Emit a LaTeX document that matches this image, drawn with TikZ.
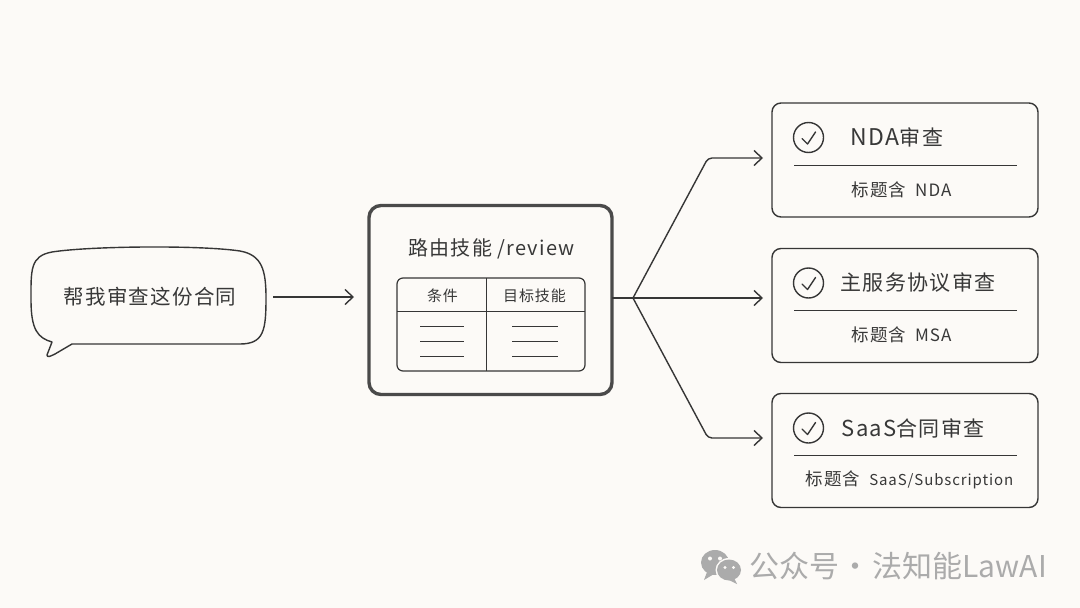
\documentclass[tikz,border=0pt]{standalone}
\usepackage{fontspec}
\setmainfont[LetterSpace=6]{Noto Sans CJK SC}
\newfontfamily\wmfont[LetterSpace=0]{Noto Sans CJK SC}
\usetikzlibrary{arrows.meta,calc}
\definecolor{bgc}{HTML}{FCFAF7}
\definecolor{ink}{HTML}{363636}
\definecolor{txt}{HTML}{383838}
\definecolor{wm}{HTML}{ABABAB}
\newcommand{\fsz}[1]{\fontsize{#1}{#1}\selectfont}
\newcommand{\subline}[2]{{\fsz{17.5}标题含}\hspace{9pt}{\fsz{#1}#2}}
\tikzset{
  x=1pt,y=-1pt,
  base/.style={draw=ink,line width=1.4pt},
  arr/.style={draw=ink,line width=1.4pt,line join=round,rounded corners=4pt,-{Straight Barb[length=8pt,width=15pt,line width=1.4pt]}},
  card/.style={base,rounded corners=9pt,minimum width=266pt,minimum height=114pt,inner sep=0pt,outer sep=0pt},
  routerbox/.style={draw=ink!90,line width=3.4pt,rounded corners=12pt,minimum width=243pt,minimum height=189pt,inner sep=0pt,outer sep=0pt},
  tablebox/.style={base,line width=1.2pt,rounded corners=6pt,minimum width=188pt,minimum height=93pt,inner sep=0pt,outer sep=0pt},
  chk/.style={circle,base,minimum size=30pt,inner sep=0pt,outer sep=0pt},
  tick/.style={draw=ink,line width=1.4pt,line cap=round,line join=round},
  rowline/.style={draw=ink,line width=1.1pt},
  title/.style={text=txt,font=\fsz{21},inner sep=0pt},
  sub/.style={text=txt,inner sep=0pt},
  th/.style={text=txt,font=\fsz{15},inner sep=0pt},
  ghost/.style={minimum width=235pt,minimum height=97pt,inner sep=0pt,outer sep=0pt,text=txt,font=\fsz{20.5}},
}
\begin{document}
\begin{tikzpicture}
\useasboundingbox (0,0) rectangle (1080,608);
\fill[bgc] (0,0) rectangle (1080,608);

% speech bubble
\draw[base,line join=round,fill=bgc] (52,342) .. controls (38,338) and (31,330) .. (31,300)
  .. controls (31,270) and (30,256) .. (52,252)
  .. controls (90,246) and (200,245) .. (240,251)
  .. controls (262,255) and (266,270) .. (266,298)
  .. controls (266,330) and (264,344) .. (240,344)
  -- (72,344) -- (55,354) .. controls (51,356) and (47,358) .. (47,355) -- cycle;
\node[ghost] (user) at (150,297) {帮我审查这份合同};

% router
\node[routerbox] (router) at (490.5,300) {};
\node[title,font=\fsz{20}] (routertitle) at (491.5,249) {路由技能 /review};
\node[tablebox] (table) at (491,324.5) {};
\draw[base,line width=1.2pt] (table.west |- 0,311.5) -- (table.east |- 0,311.5);
\draw[base,line width=1.2pt] (486.5,278) -- (486.5,371);
\node[th] (cond) at (442.5,296) {条件};
\node[th] (skill) at (534.5,296) {目标技能};
\foreach \yy in {326.5,341.5,356.5}{
  \draw[rowline] (420,\yy) -- (464,\yy);
  \draw[rowline] (512,\yy) -- (558,\yy);
}

% cards
\node[card] (nda) at (905,160) {};
\node[card] (msa) at (905,305.5) {};
\node[card] (saas) at (905,450.5) {};

\node[chk] (c1) at (808.5,137.5) {};
\node[chk] (c2) at (808.5,283) {};
\node[chk] (c3) at (808.5,428) {};
\foreach \c in {c1,c2,c3}{
  \draw[tick] ($(\c.center)+(-6.5,1)$) -- ($(\c.center)+(-1,6.5)$) -- ($(\c.center)+(7,-5.5)$);
}
\draw[rowline] (794,165.5) -- (1017,165.5);
\draw[rowline] (794,310.5) -- (1017,310.5);
\draw[rowline] (794,455.5) -- (1017,455.5);

\node[title] (t1) at (897,137) {{\fsz{23}NDA}审查};
\node[title] (t2) at (918,283) {主服务协议审查};
\node[title] (t3) at (913,428) {{\fsz{22}SaaS}合同审查};
\node[sub] (s1) at (901.5,190) {\subline{17}{NDA}};
\node[sub] (s2) at (901.5,335) {\subline{17}{MSA}};
\node[sub] (s3) at (909.5,480) {\subline{15}{SaaS/Subscription}};

% connectors
\coordinate (hub) at (633,298);
\coordinate (up) at (708,158);
\coordinate (down) at (708,438);
\draw[arr,shorten <=5.5pt,shorten >=15pt] (user.east) -- (router.west |- user.east);
\draw[base] (router.east |- hub) -- (hub);
\draw[arr,shorten >=9pt] (hub) -- (up) -- (nda.west |- up);
\draw[arr,shorten >=9pt] (hub) -- (msa.west |- hub);
\draw[arr,shorten >=9pt] (hub) -- (down) -- (saas.west |- down);

% watermark
\begin{scope}
\fill[wm] (715,562.5) ellipse (14 and 12.5);
\fill[wm] (707,572) -- (704,580) -- (714,574) -- cycle;
\fill[bgc] (729,570) ellipse (13.5 and 12);
\fill[wm] (729,570) ellipse (12 and 10.5);
\fill[wm] (734,578) -- (737,584) -- (727,579) -- cycle;
\fill[bgc] (710,558.5) circle (2);
\fill[bgc] (720,558.5) circle (2);
\fill[bgc] (725,567.5) circle (1.7);
\fill[bgc] (733.5,567.5) circle (1.7);
\end{scope}
\node[text=wm,font=\wmfont\fsz{30},inner sep=0pt] (mark) at (898,566) {公众号\hspace{-5pt} · \hspace{-5pt}法知能LawAI};
\end{tikzpicture}
\end{document}
